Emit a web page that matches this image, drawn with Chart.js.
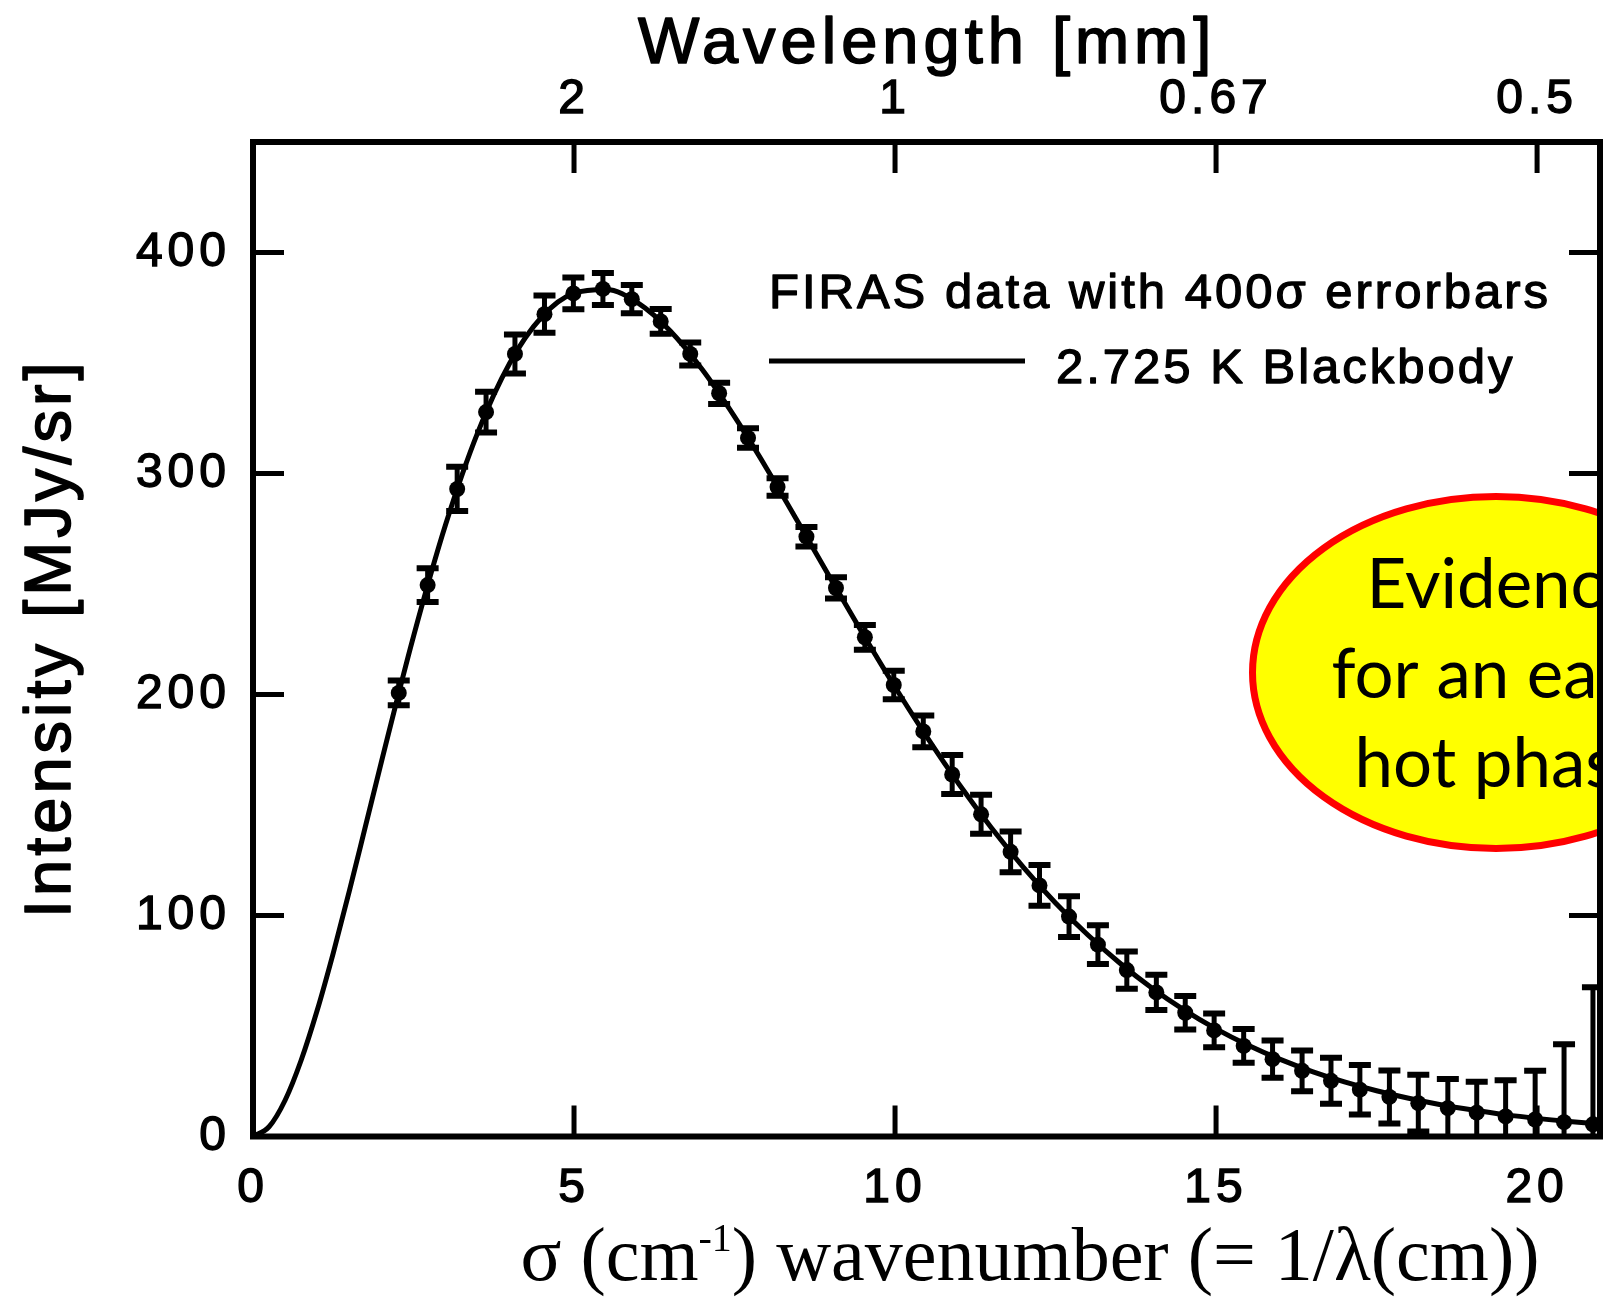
<!DOCTYPE html>
<html>
<head>
<meta charset="utf-8">
<script src="https://cdn.jsdelivr.net/npm/chart.js@4.4.1/dist/chart.umd.min.js"></script>
<style>
  html, body { margin: 0; padding: 0; background: #fff; }
  #wrap { position: relative; width: 1608px; height: 1301px; }
</style>
</head>
<body>
<div id="wrap"><canvas id="firas"></canvas></div>
<script>
// FIRAS points (wavenumber cm-1, MJy/sr) and 400 sigma error bars
var sigma = [2.27, 2.72, 3.18, 3.63, 4.08, 4.54, 4.99, 5.45, 5.90, 6.35, 6.81, 7.26, 7.71, 8.17, 8.62,
             9.08, 9.53, 9.98, 10.44, 10.89, 11.34, 11.80, 12.25, 12.71, 13.16, 13.61, 14.07, 14.52,
             14.97, 15.43, 15.88, 16.34, 16.79, 17.24, 17.70, 18.15, 18.61, 19.06, 19.51, 19.97,
             20.42, 20.87, 21.33]
var intensity = [200.7, 249.5, 293.0, 327.8, 354.1, 372.1, 381.5, 383.5, 378.9, 368.8, 354.1, 336.3,
                 316.1, 293.9, 271.4, 248.2, 225.9, 204.3, 183.3, 163.8, 145.8, 128.8, 113.6, 99.5,
                 86.8, 75.3, 65.2, 56.0, 48.0, 41.0, 35.0, 29.7, 25.2, 21.2, 17.9, 15.1, 12.8, 10.8,
                 9.1, 7.7, 6.5, 5.5, 4.8]
var errors = [5.6, 7.6, 10, 9.2, 8.8, 8.4, 7.2, 7.2, 6.4, 5.6, 5.2, 4.8, 4.4, 4, 4.4, 4.8, 5.6, 6.4,
              7.2, 8.8, 8.8, 9.2, 9.2, 9.2, 8.8, 8.4, 8, 7.6, 7.6, 7.6, 8.4, 9.2, 10.4, 11.2, 12, 12.8,
              13.2, 14, 16.4, 22, 35.2, 62, 112.8]

// 2.725 K blackbody curve
var curveSigma = [0, 0.25, 0.5, 0.75, 1, 1.25, 1.5, 1.75, 2, 2.5, 3, 3.5, 4, 4.5, 5, 5.5, 6, 6.5, 7,
                  7.5, 8, 8.5, 9, 9.5, 10, 10.5, 11, 11.5, 12, 12.5, 13, 13.5, 14, 14.5, 15, 15.5,
                  16, 16.5, 17, 17.5, 18, 18.5, 19, 19.5, 20, 20.5, 21]
var curveIntensity = [0, 4.4, 16.4, 34.5, 57.1, 83.0, 111.0, 140.2, 169.5, 226.3, 276.9, 318.5, 350.0,
                      370.9, 381.6, 383.3, 377.1, 364.5, 346.9, 325.7, 302.3, 277.5, 252.3, 227.4,
                      203.4, 180.6, 159.3, 139.7, 121.8, 105.7, 91.3, 78.5, 67.2, 57.3, 48.7, 41.3,
                      34.9, 29.4, 24.7, 20.7, 17.3, 14.4, 12.0, 9.9, 8.2, 6.8, 5.6]

var xTicks = [0, 5, 10, 15, 20]
var yTicks = [0, 100, 200, 300, 400]
var lambdaTickPos = [5, 10, 15, 20]
var lambdaLabels = ['2', '1', '0.67', '0.5']
var legendLabels = ['FIRAS data with 400σ errorbars', '2.725 K Blackbody']
var bubbleLines = ['Evidence', 'for an early', 'hot phase']

var sans = '"Liberation Sans", Arial, sans-serif'
var serif = '"Liberation Serif", "Times New Roman", serif'
var tickLen = 31

function setTicks(list) {
    return function(scale) { scale.ticks = list.map(function(v) { return {value: v} }) }
}

// fill + light stroke, the source text is a bit heavier than plain Arial
function heavyText(ctx, str, x, y, w) {
    ctx.fillText(str, x, y)
    ctx.lineWidth = w
    ctx.strokeStyle = ctx.fillStyle
    ctx.strokeText(str, x, y)
}

var decor = {
    id: 'decor',
    beforeDraw: function(chart) {
        chart.ctx.letterSpacing = '5px'
    },
    afterDatasetsDraw: function(chart) {
        var ctx = chart.ctx, a = chart.chartArea, s = chart.scales
        ctx.save()
        ctx.letterSpacing = '0px'
        // error bars
        ctx.beginPath()
        ctx.rect(a.left, a.top, a.right - a.left, a.bottom - a.top)
        ctx.clip()
        ctx.strokeStyle = '#000'
        sigma.forEach(function(sg, i) {
            var px = s.x.getPixelForValue(sg)
            var top = s.y.getPixelForValue(intensity[i] + errors[i])
            var bot = s.y.getPixelForValue(intensity[i] - errors[i])
            ctx.lineWidth = 5
            ctx.beginPath()
            ctx.moveTo(px, top); ctx.lineTo(px, bot)
            ctx.stroke()
            ctx.lineWidth = 6
            ctx.beginPath()
            ctx.moveTo(px - 11, top); ctx.lineTo(px + 11, top)
            ctx.moveTo(px - 11, bot); ctx.lineTo(px + 11, bot)
            ctx.stroke()
        })
        ctx.restore()

        // inward ticks
        ctx.save()
        ctx.strokeStyle = '#000'
        ctx.lineWidth = 5
        ctx.beginPath()
        s.x.ticks.forEach(function(t) {
            var px = s.x.getPixelForValue(t.value)
            if (px < a.left + 4) return
            ctx.moveTo(px, a.bottom); ctx.lineTo(px, a.bottom - tickLen)
        })
        s.x2.ticks.forEach(function(t) {
            var px = s.x2.getPixelForValue(t.value)
            ctx.moveTo(px, a.top); ctx.lineTo(px, a.top + tickLen)
        })
        s.y.ticks.forEach(function(t) {
            var py = s.y.getPixelForValue(t.value)
            if (py > a.bottom - 4) return
            ctx.moveTo(a.left, py); ctx.lineTo(a.left + tickLen, py)
        })
        s.y2.ticks.forEach(function(t) {
            var py = s.y2.getPixelForValue(t.value)
            if (py > a.bottom - 4) return
            ctx.moveTo(a.right, py); ctx.lineTo(a.right - tickLen, py)
        })
        ctx.stroke()
        // frame
        ctx.lineWidth = 6
        ctx.strokeRect(a.left, a.top, a.right - a.left, a.bottom - a.top)
        ctx.restore()
    },
    afterDraw: function(chart) {
        var ctx = chart.ctx, a = chart.chartArea
        ctx.save()
        ctx.fillStyle = '#000'
        ctx.textBaseline = 'alphabetic'
        ctx.lineJoin = 'round'

        // top title
        ctx.font = '65px ' + sans
        ctx.letterSpacing = '5px'
        ctx.textAlign = 'left'
        heavyText(ctx, 'Wavelength [mm]', 638, 63, 1.6)

        // y title
        ctx.save()
        ctx.translate(70, 918)
        ctx.rotate(-Math.PI / 2)
        ctx.letterSpacing = '4px'
        heavyText(ctx, 'Intensity [MJy/sr]', 0, 0, 1.6)
        ctx.restore()

        // legend
        ctx.font = '49px ' + sans
        ctx.letterSpacing = '3px'
        heavyText(ctx, legendLabels[0], 769, 308, 1.3)
        heavyText(ctx, legendLabels[1], 1056, 383, 1.3)
        ctx.strokeStyle = '#000'
        ctx.lineWidth = 5
        ctx.beginPath()
        ctx.moveTo(769, 361); ctx.lineTo(1025, 361)
        ctx.stroke()

        // x title with superscript
        ctx.letterSpacing = '0px'
        var big = '76px ' + serif, small = '40px ' + serif
        var p1 = 'σ (cm', p2 = '-1', p3 = ') wavenumber (= 1/λ(cm))'
        ctx.font = big
        var w1 = ctx.measureText(p1).width, w3 = ctx.measureText(p3).width
        ctx.font = small
        var w2 = ctx.measureText(p2).width
        var x0 = 1030 - (w1 + w2 + w3) / 2
        ctx.font = big
        ctx.fillText(p1, x0, 1280)
        ctx.font = small
        ctx.fillText(p2, x0 + w1, 1251)
        ctx.font = big
        ctx.fillText(p3, x0 + w1 + w2, 1280)

        // bubble, kept inside the right frame line
        ctx.save()
        ctx.beginPath()
        ctx.rect(0, 0, a.right - 3, chart.height)
        ctx.clip()
        ctx.beginPath()
        ctx.ellipse(1496, 672.5, 243.5, 176, 0, 0, Math.PI * 2)
        ctx.fillStyle = '#ffff00'
        ctx.fill()
        ctx.lineWidth = 7
        ctx.strokeStyle = '#ff0000'
        ctx.stroke()
        ctx.fillStyle = '#000'
        ctx.font = '69px Lato, "Open Sans", sans-serif'
        ctx.textAlign = 'center'
        ctx.fillText(bubbleLines[0], 1503, 608)
        ctx.fillText(bubbleLines[1], 1503, 698)
        ctx.fillText(bubbleLines[2], 1503, 787)
        ctx.restore()

        ctx.restore()
    }
}

var tickFont = {family: sans, size: 48}
var ctx = document.getElementById('firas')
var chart = new Chart(ctx, {
    type: 'scatter',
    data: {
        datasets: [
            {
                label: legendLabels[1],
                data: curveSigma.map(function(v, i) { return {x: v, y: curveIntensity[i]} }),
                showLine: true,
                borderColor: '#000',
                borderWidth: 5,
                pointRadius: 0,
                cubicInterpolationMode: 'monotone',
                clip: 0,
                xAxisID: 'x', yAxisID: 'y'
            },
            {
                label: legendLabels[0],
                data: sigma.map(function(v, i) { return {x: v, y: intensity[i]} }),
                showLine: false,
                pointStyle: 'circle',
                pointRadius: 8,
                backgroundColor: '#000',
                borderColor: '#000',
                borderWidth: 0,
                xAxisID: 'x', yAxisID: 'y'
            }
        ]
    },
    options: {
        responsive: true,
        maintainAspectRatio: false,
        animation: false,
        events: [],
        layout: { padding: 0 },
        plugins: { legend: { display: false }, tooltip: { enabled: false } },
        scales: {
            x: {
                type: 'linear', position: 'bottom', min: 0, max: 20.98,
                afterFit: function(s) { s.height = 164.5 },
                afterBuildTicks: setTicks(xTicks),
                grid: { display: false }, border: { display: false },
                ticks: { color: '#000', font: tickFont, padding: 15, maxRotation: 0, autoSkip: false,
                         textStrokeColor: '#000', textStrokeWidth: 1.4 }
            },
            x2: {
                type: 'linear', position: 'top', min: 0, max: 20.98,
                afterFit: function(s) { s.height = 142 },
                afterBuildTicks: setTicks(lambdaTickPos),
                grid: { display: false }, border: { display: false },
                ticks: {
                    color: '#000', font: tickFont, padding: 5, maxRotation: 0, autoSkip: false,
                    textStrokeColor: '#000', textStrokeWidth: 1.4,
                    callback: function(value, index) { return lambdaLabels[index] }
                }
            },
            y: {
                type: 'linear', position: 'left', min: 0, max: 450,
                afterFit: function(s) { s.width = 253 },
                afterBuildTicks: setTicks(yTicks),
                grid: { display: false }, border: { display: false },
                ticks: { color: '#000', font: tickFont, padding: 14,
                         textStrokeColor: '#000', textStrokeWidth: 1.4 }
            },
            y2: {
                type: 'linear', position: 'right', min: 0, max: 450,
                afterFit: function(s) { s.width = 4 },
                afterBuildTicks: setTicks(yTicks),
                grid: { display: false }, border: { display: false },
                ticks: { display: false }
            }
        }
    },
    plugins: [decor]
})
</script>
</body>
</html>
